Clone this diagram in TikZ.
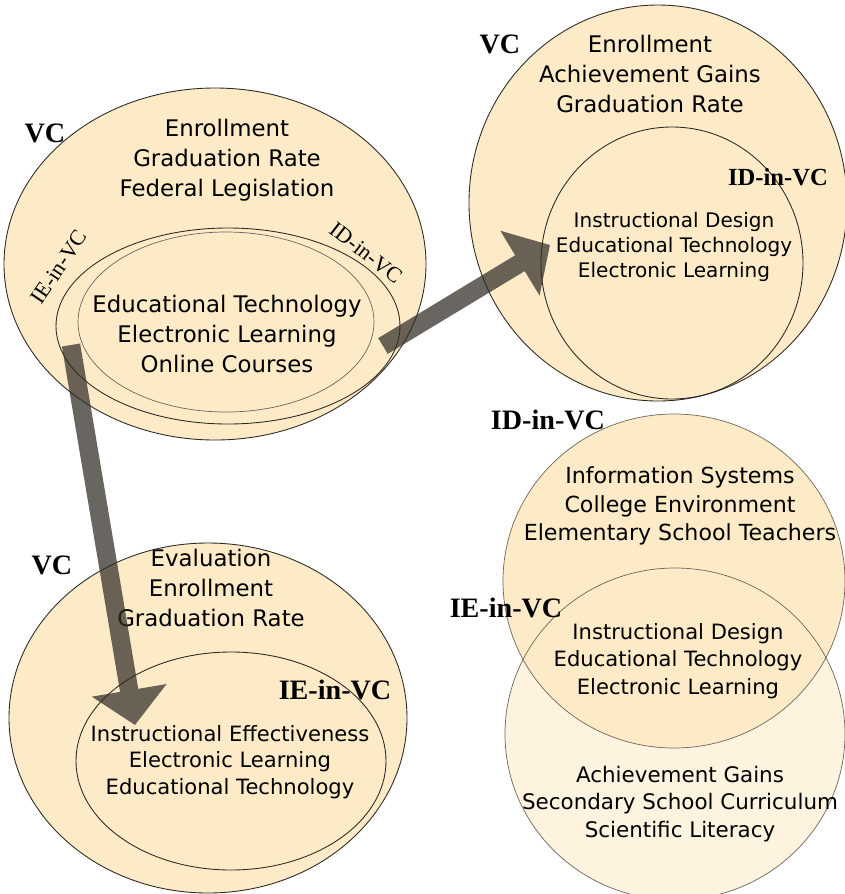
\documentclass[tikz,border=0pt]{standalone}
\usepackage{fontspec}
\setmainfont{DejaVu Sans}
\newfontfamily\lblfont{Liberation Serif}
\usetikzlibrary{arrows.meta}
\definecolor{beige}{HTML}{FDEBC8}
\definecolor{lightbeige}{HTML}{FEF3DF}
\definecolor{edge}{HTML}{2E2A25}
\definecolor{softedge}{HTML}{6E665A}
\definecolor{arrowc}{HTML}{302C26}
\begin{document}
\begin{tikzpicture}[x=0.02cm,y=-0.02cm,
  setfill/.style={draw=edge, line width=0.5pt, fill=beige},
  setline/.style={draw=edge, line width=0.5pt},
  softline/.style={draw=softedge, line width=0.4pt},
  txt/.style={align=center, inner sep=0pt, font=\fontsize{13}{17}\selectfont},
  txtsmall/.style={align=center, inner sep=0pt, font=\fontsize{11.4}{14.3}\selectfont},
  lbl/.style={font=\lblfont\bfseries\fontsize{16}{16}\selectfont, inner sep=0pt},
  smalllbl/.style={font=\lblfont\fontsize{12.5}{12.5}\selectfont, inner sep=0pt},
  bigarrow/.style={line width=10.5pt, draw=arrowc, -{Triangle[width=42pt,length=20pt]}}
]
\path[fill=white] (0,0) rectangle (845,894);
\useasboundingbox (0,0) rectangle (845,894);

% ---------- top-left ----------
\path[setfill] (215,264) ellipse [x radius=211, y radius=176];
\path[setline] (228,326) ellipse [x radius=172, y radius=98];
\path[softline] (226,322) ellipse [x radius=148, y radius=90];
\node[lbl] (vc1) at (45,133) {VC};
\node[txt] (t1) at (227,160) {Enrollment\\Graduation Rate\\Federal Legislation};
\node[txt] (t1in) at (227,334) {Educational Technology\\Electronic Learning\\Online Courses};
\node[smalllbl, rotate=56] (ie1) at (59,267) {IE-in-VC};
\node[smalllbl, rotate=-38] (id1) at (366,253) {ID-in-VC};

% ---------- top-right ----------
\path[setfill] (658,203) ellipse [x radius=189, y radius=198];
\path[setline] (672,263) ellipse [x radius=131, y radius=136];
\node[lbl] (vc2) at (500,44) {VC};
\node[txt] (t2) at (650,74) {Enrollment\\Achievement Gains\\Graduation Rate};
\node[lbl, font=\lblfont\bfseries\fontsize{14}{14}\selectfont] (id2) at (778,177) {ID-in-VC};
\node[txtsmall] (t2in) at (674,247) {Instructional Design\\Educational Technology\\Electronic Learning};

% ---------- bottom-left ----------
\path[setfill] (208,718) ellipse [x radius=199, y radius=175];
\path[setline] (231,761) ellipse [x radius=155, y radius=109];
\node[lbl] (vc3) at (52,565) {VC};
\node[txt] (t3) at (211,588) {Evaluation\\Enrollment\\Graduation Rate};
\node[lbl] (ie3) at (335,690) {IE-in-VC};
\node[txtsmall, font=\fontsize{12}{15}\selectfont] (t3in) at (230,762) {Instructional Effectiveness\\Electronic Learning\\Educational Technology};

% ---------- bottom-right ----------
\path[draw=none, fill=lightbeige] (675,734) ellipse [x radius=170, y radius=166];
\path[draw=none, fill=beige] (674,581) ellipse [x radius=171, y radius=167];
\path[softline] (675,734) ellipse [x radius=170, y radius=166];
\path[softline] (674,581) ellipse [x radius=171, y radius=167];
\node[lbl] (id4) at (548,420) {ID-in-VC};
\node[lbl] (ie4) at (506,608) {IE-in-VC};
\node[txt, font=\fontsize{12.6}{16.4}\selectfont] (t4a) at (680,506) {Information Systems\\College Environment\\Elementary School Teachers};
\node[txt, font=\fontsize{12}{15.8}\selectfont] (t4b) at (678,661) {Instructional Design\\Educational Technology\\Electronic Learning};
\node[txt, font=\fontsize{12.2}{15.8}\selectfont] (t4c) at (680,804) {Achievement Gains\\Secondary School Curriculum\\Scientific Literacy};

% ---------- arrows ----------
\coordinate (a1s) at (383,346);
\coordinate (a1e) at (550,245);
\coordinate (a2s) at (71,345);
\coordinate (a2e) at (135,725);
\begin{scope}[transparency group, opacity=0.72]
  \draw[bigarrow] (a1s) -- (a1e);
  \draw[bigarrow] (a2s) -- (a2e);
\end{scope}
\end{tikzpicture}
\end{document}
